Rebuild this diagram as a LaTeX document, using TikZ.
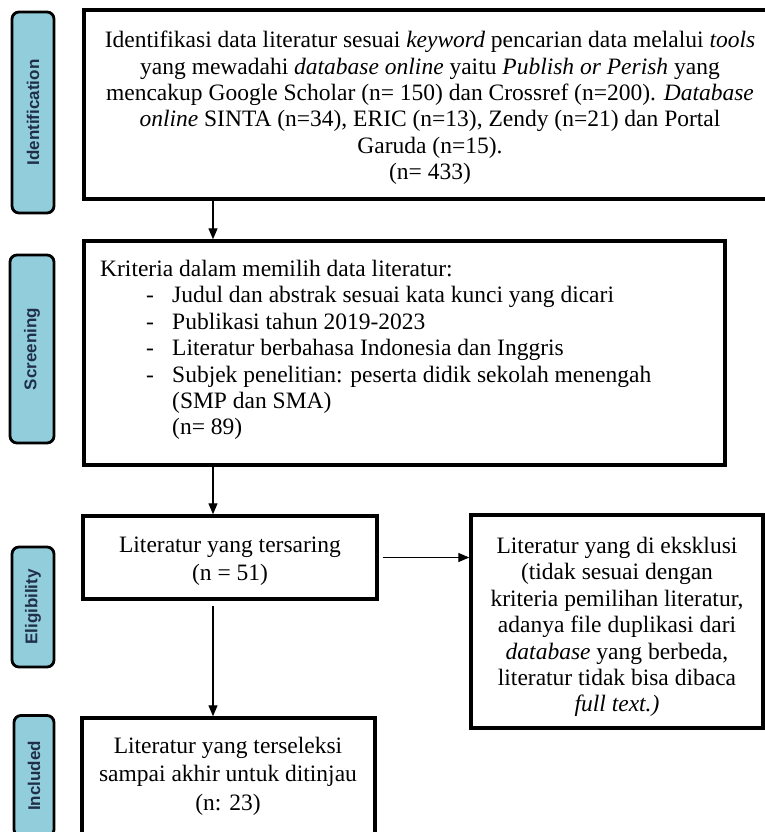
\documentclass[tikz,border=0pt]{standalone}
\usepackage{fontspec}
\setmainfont{Liberation Serif}
\newfontfamily\labfont{Liberation Sans}
\usetikzlibrary{arrows.meta}
\definecolor{stageblue}{HTML}{92CDDC}
\definecolor{stagetext}{HTML}{1F2F48}
\begin{document}
\begin{tikzpicture}[x=1pt,y=-1pt,
  mainbox/.style={draw, line width=3.4pt, inner sep=0pt},
  stagebox/.style={draw, line width=2.8pt, rounded corners=7pt, fill=stageblue, inner sep=0pt},
  stagetxt/.style={rotate=90, font=\labfont\bfseries\fontsize{17}{20}\selectfont, text=stagetext},
  body/.style={font=\fontsize{23.5}{26.4}\selectfont, align=center},
  arr/.style={-{Triangle[length=11pt,width=9pt]}, line width=1.2pt}]
\useasboundingbox (0,0) rectangle (764,832);
% stage labels
\node[stagebox, minimum width=42pt, minimum height=201pt] (s1) at (33,112.5) {};
\node[stagetxt] at (s1) {Identification};
\node[stagebox, minimum width=44pt, minimum height=188pt] (s2) at (32,349) {};
\node[stagetxt] at (s2) {Screening};
\node[stagebox, minimum width=42pt, minimum height=120pt] (s3) at (33,607) {};
\node[stagetxt] at (s3) {Eligibility};
\node[stagebox, minimum width=40pt, minimum height=121pt] (s4) at (34,776) {};
\node[stagetxt] at (s4) {Included};
% box 1
\node[mainbox, minimum width=691pt, minimum height=189pt] (b1) at (429.5,104.5) {};
\node[body] (t1) at (430,108) {Identifikasi data literatur sesuai \textit{keyword} pencarian data melalui \textit{tools}\\
yang mewadahi \textit{database online} yaitu \textit{Publish or Perish} yang\\
mencakup Google Scholar (n= 150) dan Crossref (n=200). \textit{Database}\\
\textit{online} SINTA (n=34), ERIC (n=13), Zendy (n=21) dan Portal\\
Garuda (n=15).\\
(n= 433)};
% box 2
\node[mainbox, minimum width=641pt, minimum height=224pt] (b2) at (404.5,353) {};
\node[body, align=left, anchor=north west, inner sep=0pt] (t2) at (100,260) {Kriteria dalam memilih data literatur:\\
\hspace*{46pt}\makebox[26pt][l]{-}Judul dan abstrak sesuai kata kunci yang dicari\\
\hspace*{46pt}\makebox[26pt][l]{-}Publikasi tahun 2019-2023\\
\hspace*{46pt}\makebox[26pt][l]{-}Literatur berbahasa Indonesia dan Inggris\\
\hspace*{46pt}\makebox[26pt][l]{-}Subjek penelitian: peserta didik sekolah menengah\\
\hspace*{72pt}(SMP dan SMA)\\
\hspace*{72pt}(n= 89)};
% box 3
\node[mainbox, minimum width=294pt, minimum height=83pt] (b3) at (230,557.5) {};
\node[body, font=\fontsize{23.5}{28}\selectfont] (t3) at (230,561) {Literatur yang tersaring\\(n = 51)};
% box 4
\node[mainbox, minimum width=292pt, minimum height=213pt] (b4) at (617,621.5) {};
\node[body] (t4) at (617,627) {Literatur yang di eksklusi\\
(tidak sesuai dengan\\
kriteria pemilihan literatur,\\
adanya file duplikasi dari\\
\textit{database} yang berbeda,\\
literatur tidak bisa dibaca\\
\textit{full text.)}};
% box 5
\node[mainbox, minimum width=293pt, minimum height=122pt] (b5) at (228.5,779) {};
\node[body, font=\fontsize{23.5}{28.5}\selectfont] (t5) at (228,776) {Literatur yang terseleksi\\sampai akhir untuk ditinjau\\(n: 23)};
% arrows
\draw[arr] (b1.south -| 213,0) -- (b2.north -| 213,0);
\draw[arr] (b2.south -| 213,0) -- (b3.north -| 213,0);
\draw[arr, shorten <=4pt] (b3.east) -- (b3.east -| b4.west);
\draw[arr, shorten <=5pt] (b3.south -| 213,0) -- (b5.north -| 213,0);
\end{tikzpicture}
\end{document}
